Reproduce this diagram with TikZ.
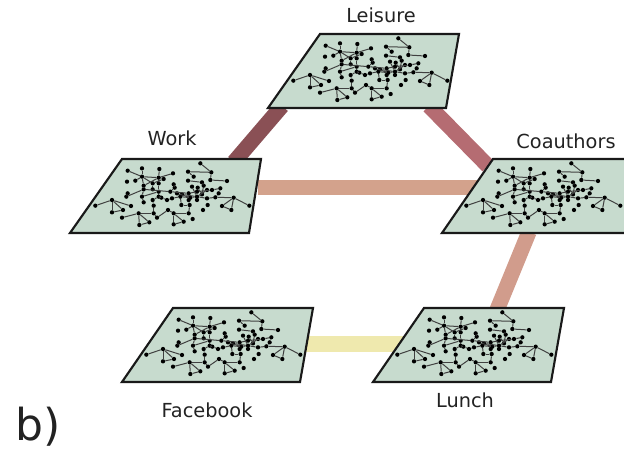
\documentclass[tikz,border=0pt]{standalone}
\usepackage{fontspec}
\setmainfont{DejaVu Sans}
\definecolor{planefill}{HTML}{C7DBCE}
\definecolor{txt}{HTML}{222222}
\definecolor{cA}{HTML}{8A5055}
\definecolor{cB}{HTML}{B56C72}
\definecolor{cC}{HTML}{D3A28C}
\definecolor{cD}{HTML}{D19C8C}
\definecolor{cE}{HTML}{EFE9AE}
\tikzset{
  plane/.style={draw=black!90,line width=1.6pt,fill=planefill,line join=miter},
  dot/.style={circle,fill=black,draw=none,inner sep=0pt,minimum width=3.2pt,minimum height=3.2pt},
  netedge/.style={draw=black!75,line width=0.75pt},
  link/.style={line width=11.5pt},
  lab/.style={text=txt,font=\fontsize{14.5pt}{16pt}\selectfont,inner sep=0pt,anchor=center}
}
\newcommand{\mynet}{%
  \foreach \i/\x/\y in {1/415/55,2/448/82,3/378/80,4/395/95,5/445/105,6/495/108,7/378/107,8/420/112,9/197/77,10/240/70,11/292/72,12/333/85,13/240/95,14/290/98,15/195/110,16/220/107,17/305/102,18/245/122,19/272/115,20/290/115,21/245/133,22/272/133,23/335/118,24/338/128,25/390/125,26/407/128,27/425/122,28/475/130,29/197/145,30/193/155,31/240/155,32/290/140,33/290/155,34/325/140,35/345/145,36/360/148,37/380/145,38/405/140,39/420/148,40/435/135,41/450/135,42/470/145,43/298/158,44/315/165,45/330/160,46/355/155,47/385/158,48/405/155,49/435/160,50/460/157,51/245/172,52/272/165,53/150/165,54/100/182,55/150/202,56/183/195,57/207/183,58/275/182,59/358/180,60/383/180,61/380/165,62/405/165,63/437/180,64/515/158,65/480/183,66/508/195,67/562/182,68/180/218,69/230/205,70/232/240,71/262/232,72/275/205,73/318/195,74/285/218,75/335/205,76/335/238,77/365/230,78/380/205,79/423/195,80/392/222}
    {\node[dot] (n\i) at ({(\x-180)/3},{(\y-42)/3}) {};}
  \foreach \a/\b in {1/2,2/3,3/4,2/5,5/6,7/8,9/13,10/13,11/14,12/14,13/14,16/13,13/18,14/17,14/20,14/18,13/19,19/22,18/21,21/31,20/32,32/33,32/31,29/30,30/21,31/51,17/19,23/24,24/34,21/34,34/37,37/38,38/41,41/28,28/42,42/50,50/49,49/48,48/47,47/46,46/45,45/44,44/43,43/33,37/61,61/60,60/59,59/46,25/48,26/39,27/39,40/48,60/78,78/75,75/76,76/77,77/75,75/73,73/74,74/72,72/69,69/68,69/70,70/71,71/69,72/58,58/52,53/54,53/55,55/56,56/53,64/50,64/65,65/66,66/64,64/67,53/57,33/52,8/27,35/47,36/48}
    {\draw[netedge] (n\a) -- (n\b);}
}
\begin{document}
\begin{tikzpicture}[x=0.75pt,y=-0.75pt]
\useasboundingbox (0,0) rectangle (624,457);
\clip (0,0) rectangle (624,457);
% link anchors
\coordinate (LW) at (282,106);
\coordinate (WL) at (234,162);
\coordinate (LC) at (429,106);
\coordinate (CL) at (488,166);
\coordinate (WC) at (258,187.5);
\coordinate (CW) at (482,187.5);
\coordinate (CU) at (529,232);
\coordinate (UC) at (497,310);
\coordinate (FU) at (305,344);
\coordinate (UF) at (412,344);
\draw[link,cA] (LW) -- (WL);
\draw[link,cB] (LC) -- (CL);
\draw[link,cC] (WC) -- (CW);
\draw[link,cD] (CU) -- (UC);
\draw[link,cE] (FU) -- (UF);
% planes
\begin{scope}[name prefix=L-,shift={(320,34)}]
  \draw[plane] (0,0) -- (139,0) -- (126,74) -- (-52,74) -- cycle; \mynet
\end{scope}
\begin{scope}[name prefix=W-,shift={(122,159)}]
  \draw[plane] (0,0) -- (139,0) -- (127,74) -- (-52,74) -- cycle; \mynet
\end{scope}
\begin{scope}[name prefix=C-,shift={(493,159)}]
  \draw[plane] (0,0) -- (145,0) -- (133,74) -- (-51,74) -- cycle; \mynet
\end{scope}
\begin{scope}[name prefix=F-,shift={(173,308)}]
  \draw[plane] (0,0) -- (140,0) -- (127,74) -- (-51,74) -- cycle; \mynet
\end{scope}
\begin{scope}[name prefix=U-,shift={(424,308)}]
  \draw[plane] (0,0) -- (140,0) -- (127,74) -- (-51,74) -- cycle; \mynet
\end{scope}
% labels
\node[lab] (tL) at (381,15) {Leisure};
\node[lab] (tW) at (172,138) {Work};
\node[lab] (tC) at (566,141) {Coauthors};
\node[lab] (tF) at (207,410) {Facebook};
\node[lab] (tU) at (465,400) {Lunch};
\node[text=txt,font=\fontsize{33pt}{36pt}\selectfont,inner sep=0pt] (tb) at (38,427) {b)};
\end{tikzpicture}
\end{document}
